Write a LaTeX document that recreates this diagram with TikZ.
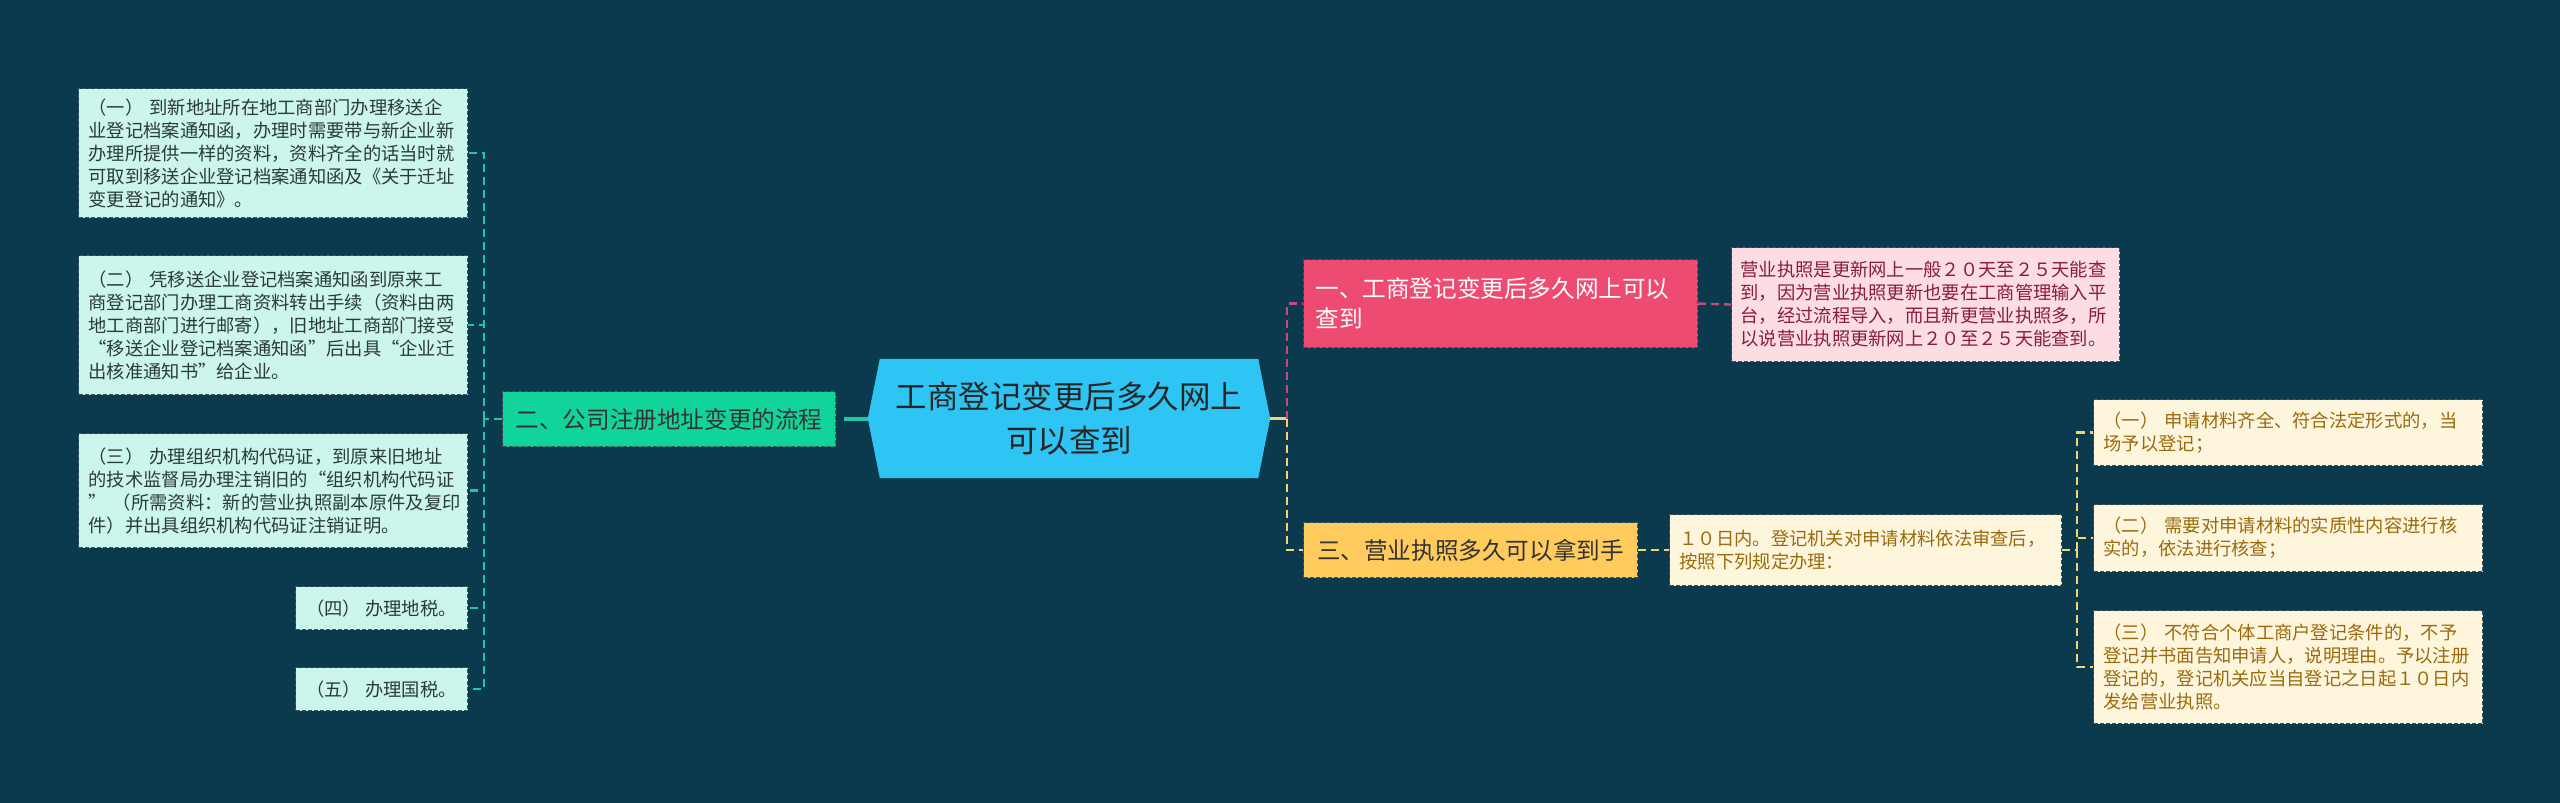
\documentclass[tikz,border=0pt]{standalone}
\usepackage{fontspec}
\setmainfont{Noto Sans CJK SC}
\usepackage{xcolor}
\usetikzlibrary{positioning, backgrounds}
\definecolor{bgdark}{HTML}{0B3A4E}
\definecolor{mint}{HTML}{CCF5EB}
\definecolor{minttext}{HTML}{2B3A3A}
\definecolor{flowgreen}{HTML}{10D49A}
\definecolor{hubcyan}{HTML}{2EC4F3}
\definecolor{qpink}{HTML}{EE4B73}
\definecolor{qpinklight}{HTML}{FCDDE4}
\definecolor{qpinktext}{HTML}{8A1C3C}
\definecolor{qyellow}{HTML}{FFCB5C}
\definecolor{qyellowlight}{HTML}{FEF5DD}
\definecolor{qyellowtext}{HTML}{9B6A0C}
\definecolor{boxline}{HTML}{3B5560}
\definecolor{tealline}{HTML}{1FC8A5}
\definecolor{pinkline}{HTML}{C94A7A}
\definecolor{yellowline}{HTML}{F6D46B}
\newcommand{\leaffont}{\fontsize{18.3}{23}\selectfont}
\newcommand{\topicfont}{\fontsize{23.6}{30}\selectfont}
\newcommand{\hubfont}{\fontsize{31.5}{44}\selectfont}
\tikzstyle{box} = [rectangle, anchor=north west, draw=boxline,
    dash pattern=on 4pt off 2pt, line width=1.1pt,
    inner xsep=10pt, inner ysep=0pt]
\tikzstyle{leaf}     = [box, fill=mint, text=minttext, font=\leaffont,
    align=left, text width=369pt]
\tikzstyle{leafsmall}= [box, fill=mint, text=minttext, font=\leaffont,
    align=center, minimum width=172pt, minimum height=43pt]
\tikzstyle{pinkleaf} = [box, fill=qpinklight, text=qpinktext, font=\leaffont,
    align=left, text width=370pt, inner xsep=9pt]
\tikzstyle{yelleaf}  = [box, fill=qyellowlight, text=qyellowtext, font=\leaffont,
    align=left, text width=369pt]
\tikzstyle{topic}    = [box, font=\topicfont]
\tikzstyle{dashlink} = [line width=2.4pt, dash pattern=on 8pt off 5pt]

\begin{document}
\begin{tikzpicture}[x=1pt, y=-1pt]
  \useasboundingbox (0,0) rectangle (2560,803);

  % center
  \node[font=\hubfont, text=black!85, align=center,
        minimum width=402pt, minimum height=119pt, inner sep=0pt] (hub) at (1069,418.5)
        {工商登记变更后多久网上\\可以查到};
  \begin{scope}[on background layer]
    \fill[bgdark] (0,0) rectangle (2560,803);
    \fill[hubcyan] (hub.west) -- ([xshift=12pt]hub.north west) -- ([xshift=-12pt]hub.north east)
      -- (hub.east) -- ([xshift=-12pt]hub.south east) -- ([xshift=12pt]hub.south west) -- cycle;
  \end{scope}

  % left branch
  \node[topic, fill=flowgreen, text=black!80, minimum width=333pt, minimum height=55pt]
        (flow) at (502,391) {二、公司注册地址变更的流程};

  \node[leaf, minimum height=129pt] (a1) at (78,88)
    {（一） 到新地址所在地工商部门办理移送企\\业登记档案通知函，办理时需要带与新企业新\\办理所提供一样的资料，资料齐全的话当时就\\可取到移送企业登记档案通知函及《关于迁址\\变更登记的通知》。};
  \node[leaf, minimum height=139pt] (a2) at (78,255)
    {（二） 凭移送企业登记档案通知函到原来工\\商登记部门办理工商资料转出手续（资料由两\\地工商部门进行邮寄），旧地址工商部门接受\\“移送企业登记档案通知函”后出具“企业迁\\出核准通知书”给企业。};
  \node[leaf, minimum height=114pt] (a3) at (78,433)
    {（三） 办理组织机构代码证，到原来旧地址\\的技术监督局办理注销旧的“组织机构代码证\\” （所需资料：新的营业执照副本原件及复印\\件）并出具组织机构代码证注销证明。};
  \node[leafsmall] (a4) at (295,586) {（四） 办理地税。};
  \node[leafsmall] (a5) at (295,667) {（五） 办理国税。};

  % right branch
  \node[topic, fill=qpink, text=white, align=left, text width=370pt, inner xsep=12pt,
        minimum height=88pt] (q1) at (1303,259) {一、工商登记变更后多久网上可以\\查到};
  \node[topic, fill=qyellow, text=black!80, minimum width=334pt, minimum height=55pt]
        (q3) at (1303,522) {三、营业执照多久可以拿到手};

  \node[pinkleaf, minimum height=114pt] (q1d) at (1731,247)
    {营业执照是更新网上一般２０天至２５天能查\\到，因为营业执照更新也要在工商管理输入平\\台，经过流程导入，而且新更营业执照多，所\\以说营业执照更新网上２０至２５天能查到。};
  \node[yelleaf, text width=372pt, minimum height=71pt] (q3d) at (1669,514)
    {１０日内。登记机关对申请材料依法审查后，\\按照下列规定办理：};

  \node[yelleaf, minimum height=66pt] (b1) at (2093,399)
    {（一） 申请材料齐全、符合法定形式的，当\\场予以登记；};
  \node[yelleaf, minimum height=67pt] (b2) at (2093,504)
    {（二） 需要对申请材料的实质性内容进行核\\实的，依法进行核查；};
  \node[yelleaf, minimum height=113pt] (b3) at (2093,610)
    {（三） 不符合个体工商户登记条件的，不予\\登记并书面告知申请人，说明理由。予以注册\\登记的，登记机关应当自登记之日起１０日内\\发给营业执照。};

  % links
  \draw[tealline, line width=4pt] ([xshift=8pt]flow.east) -- (flow.east -| hub.west);
  \draw[tealline, dashlink] (flow.west) -- ++(-18,0) coordinate (lj);
  \foreach \n in {a1,a2,a3,a4,a5}
    \draw[tealline, dashlink] (lj) |- (\n.east);

  \draw[yellowline, line width=3pt] (hub.east) -- ++(17,0) coordinate (rj);
  \draw[pinkline, dashlink] (rj) |- (q1.west);
  \draw[yellowline, dashlink] (rj) |- (q3.west);
  \draw[pinkline, dashlink] (q1.east) -- (q1d.west);
  \draw[yellowline, dashlink] (q3.east) -- (q3d.west);

  \draw[yellowline, dashlink] (q3d.east) -- ++(15,0) coordinate (rk);
  \foreach \n in {b1,b2,b3}
    \draw[yellowline, dashlink] (rk) |- (\n.west);
\end{tikzpicture}
\end{document}
